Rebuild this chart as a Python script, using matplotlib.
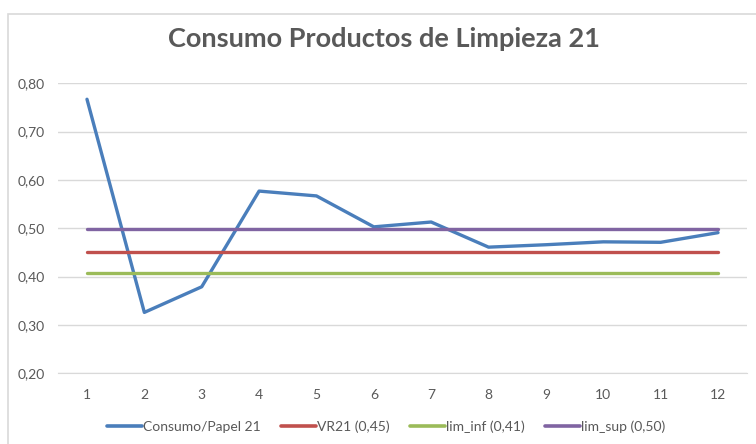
import matplotlib
matplotlib.use("Agg")
import matplotlib.pyplot as plt
from matplotlib.patches import Rectangle
from matplotlib.ticker import FuncFormatter

months = [1, 2, 3, 4, 5, 6, 7, 8, 9, 10, 11, 12]
consumo = [0.767, 0.326, 0.379, 0.577, 0.567, 0.503, 0.513, 0.461, 0.466, 0.472, 0.471, 0.491]
vr21 = [0.452] * 12
lim_inf = [0.408] * 12
lim_sup = [0.499] * 12
labels = ["Consumo/Papel 21", "VR21 (0,45)", "lim_inf (0,41)", "lim_sup (0,50)"]
colors = ["#4A7EBB", "#C0504D", "#9BBB59", "#8064A2"]
title = "Consumo Productos de Limpieza 21"

plt.rcParams['font.family'] = ['Lato', 'DejaVu Sans']

fig = plt.figure(figsize=(7.56, 4.44), dpi=100)
W, H = 756, 444
ax = fig.add_axes([58.3 / W, (H - 373.3) / H, (746.7 - 58.3) / W, (373.3 - 83.3) / H])

# chart frame
fig.patches.append(Rectangle((7.5 / W, -0.1), 1.2, (H - 14) / H + 0.1, transform=fig.transFigure,
                             fill=False, edgecolor="#D9D9D9", linewidth=1.2, zorder=0))

series = [consumo, vr21, lim_inf, lim_sup]
for s, c, lab in zip(series, colors, labels):
    ax.plot(months, s, color=c, linewidth=2.4, label=lab, solid_capstyle="round",
            solid_joinstyle="round", zorder=3)

ax.set_xlim(0.5, 12.5)
ax.set_ylim(0.20, 0.80)
ax.set_yticks([0.2, 0.3, 0.4, 0.5, 0.6, 0.7, 0.8])
ax.set_xticks(months)
ax.yaxis.set_major_formatter(FuncFormatter(lambda v, p: f"{v:.2f}".replace(".", ",")))
ax.grid(axis="y", color="#D9D9D9", linewidth=1.0, zorder=0)
ax.set_axisbelow(True)
for sp in ["top", "right", "left"]:
    ax.spines[sp].set_visible(False)
ax.spines["bottom"].set_color("#D9D9D9")
ax.tick_params(axis="both", length=0, colors="#595959", labelsize=10)
ax.tick_params(axis="y", pad=9.5)
ax.tick_params(axis="x", pad=11)

fig.text(384.5 / W, (H - 47) / H, title, ha="center", va="baseline", fontsize=19.5,
         fontweight="bold", color="#595959")

leg = fig.legend(loc="center", bbox_to_anchor=(386 / W, (H - 427) / H), ncol=4, frameon=False,
                 fontsize=10, handlelength=2.5, handletextpad=0.05, columnspacing=1.5,
                 labelcolor="#595959")
for line in leg.get_lines():
    line.set_linewidth(2.6)

fig.savefig("out.png", dpi=100)
